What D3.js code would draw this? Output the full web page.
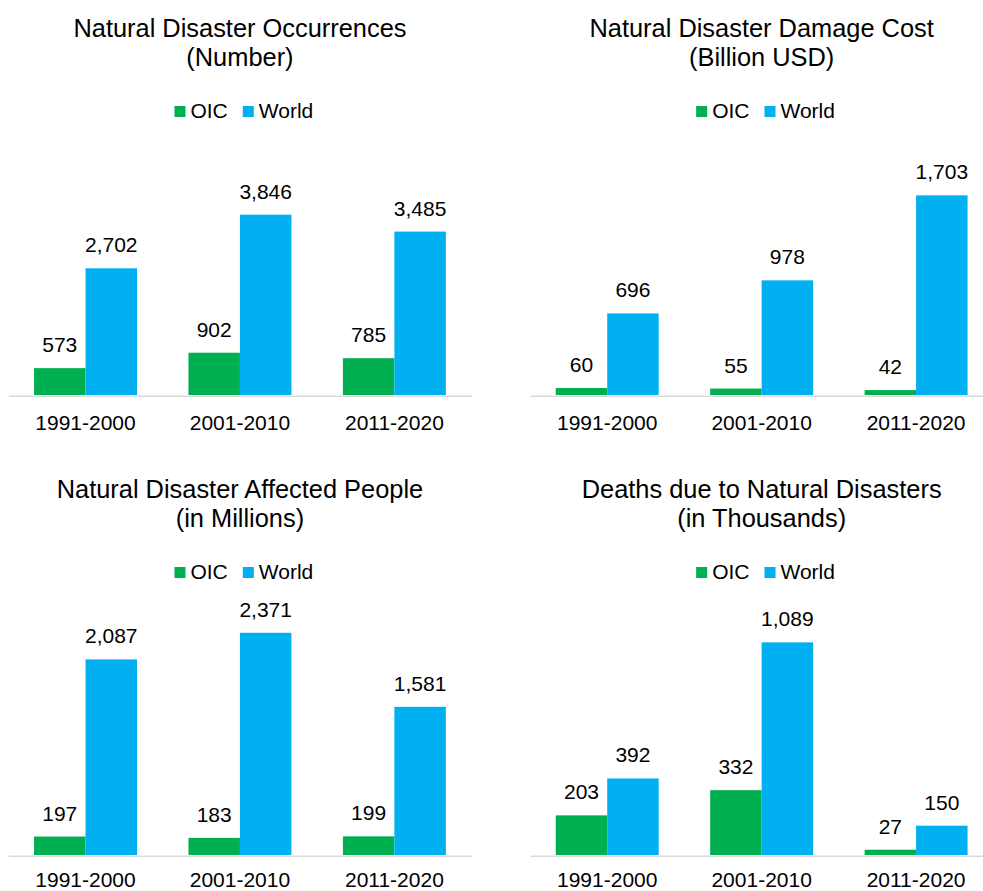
<!DOCTYPE html>
<html>
<head>
<meta charset="utf-8">
<script src="https://cdn.jsdelivr.net/npm/d3@7"></script>
<style>
  body { margin: 0; background: #fff; }
  svg { display: block; font-family: "Liberation Sans", Arial, sans-serif; }
</style>
</head>
<body>
<svg id="chart" width="983" height="891"></svg>
<script>
const categories = ["1991-2000", "2001-2010", "2011-2020"];
const seriesNames = ["OIC", "World"];
const seriesColors = ["#00B050", "#00B0F0"];

const titles = [
    ["Natural Disaster Occurrences", "(Number)"],
    ["Natural Disaster Damage Cost", "(Billion USD)"],
    ["Natural Disaster Affected People", "(in Millions)"],
    ["Deaths due to Natural Disasters", "(in Thousands)"]
];
const oicValues = [
    [573, 902, 785],
    [60, 55, 42],
    [197, 183, 199],
    [203, 332, 27]
];
const worldValues = [
    [2702, 3846, 3485],
    [696, 978, 1703],
    [2087, 2371, 1581],
    [392, 1089, 150]
];
// value axis maximum of each panel (axis itself is hidden)
const axisMax = [4500, 1800, 2500, 1200];

const svg = d3.select("#chart");
const fmt = d3.format(",");

// panel frames
const colLeft = [8.3, 530];
const axisWidth = 463.3;
const rowTop = [0, 461];
const baseY = [395, 855];
const plotTop = [184, 620.7];
const labelPad = [19, 16];   // bottom row a bit tighter so labels stay inside the page

function drawPanel(p) {
    var col = p % 2, row = Math.floor(p / 2);
    var g = svg.append("g");
    var left = colLeft[col];
    var right = left + axisWidth;
    var cx = (left + right) / 2;
    var top = rowTop[row];

    // title
    var title = g.append("text")
        .attr("text-anchor", "middle")
        .style("font-size", "25.4px")
        .attr("fill", "#000");
    titles[p].forEach(function(t, i) {
        title.append("tspan")
            .attr("x", cx)
            .attr("y", top + 36.7 + i * 29)
            .text(t);
    });

    // legend
    var legend = g.append("g")
        .attr("transform", "translate(" + (cx + 4 - 69.5) + "," + (top + 106) + ")");
    var lx = 0;
    seriesNames.forEach(function(s, i) {
        legend.append("rect")
            .attr("x", lx).attr("y", 0)
            .attr("width", 11).attr("height", 11)
            .attr("fill", seriesColors[i]);
        var txt = legend.append("text")
            .attr("x", lx + 16).attr("y", 12.3)
            .style("font-size", "21px")
            .text(s);
        lx += 16 + txt.node().getComputedTextLength() + 15;
    });

    // scales
    var x0 = d3.scaleBand().domain(categories).range([left, right]).padding(0);
    var bw = x0.bandwidth();
    var x1 = d3.scaleBand().domain(seriesNames).range([bw / 6, bw * 5 / 6]).padding(0);
    var y = d3.scaleLinear().domain([0, axisMax[p]]).range([baseY[row], plotTop[row]]);

    var rows = categories.map(function(c, i) {
        return { cat: c, vals: [oicValues[p][i], worldValues[p][i]] };
    });

    var groups = g.selectAll("g.grp")
        .data(rows)
        .enter()
        .append("g")
        .attr("class", "grp")
        .attr("transform", function(d) { return "translate(" + x0(d.cat) + ",0)"; });

    groups.selectAll("rect")
        .data(function(d) {
            return d.vals.map(function(v, i) { return { name: seriesNames[i], value: v, i: i }; });
        })
        .enter()
        .append("rect")
        .attr("x", function(d) { return x1(d.name); })
        .attr("y", function(d) { return y(d.value); })
        .attr("width", x1.bandwidth())
        .attr("height", function(d) { return y(0) - y(d.value); })
        .attr("fill", function(d) { return seriesColors[d.i]; });

    groups.selectAll("text")
        .data(function(d) {
            return d.vals.map(function(v, i) { return { name: seriesNames[i], value: v }; });
        })
        .enter()
        .append("text")
        .attr("x", function(d) { return x1(d.name) + x1.bandwidth() / 2; })
        .attr("y", function(d) { return y(d.value) - 16; })
        .attr("text-anchor", "middle")
        .style("font-size", "21px")
        .text(function(d) { return fmt(d.value); });

    // category axis
    var axis = g.append("g")
        .attr("transform", "translate(0," + (baseY[row] + 0.75) + ")")
        .call(d3.axisBottom(x0).tickSize(0).tickPadding(labelPad[row]));
    axis.select(".domain").attr("stroke", "#d9d9d9").attr("stroke-width", 1.5);
    axis.selectAll("text")
        .style("font-size", "21px")
        .style("font-family", "'Liberation Sans', Arial, sans-serif")
        .attr("fill", "#000");
}

for (let p = 0; p < 4; p++) {
    drawPanel(p);
}
</script>
</body>
</html>
